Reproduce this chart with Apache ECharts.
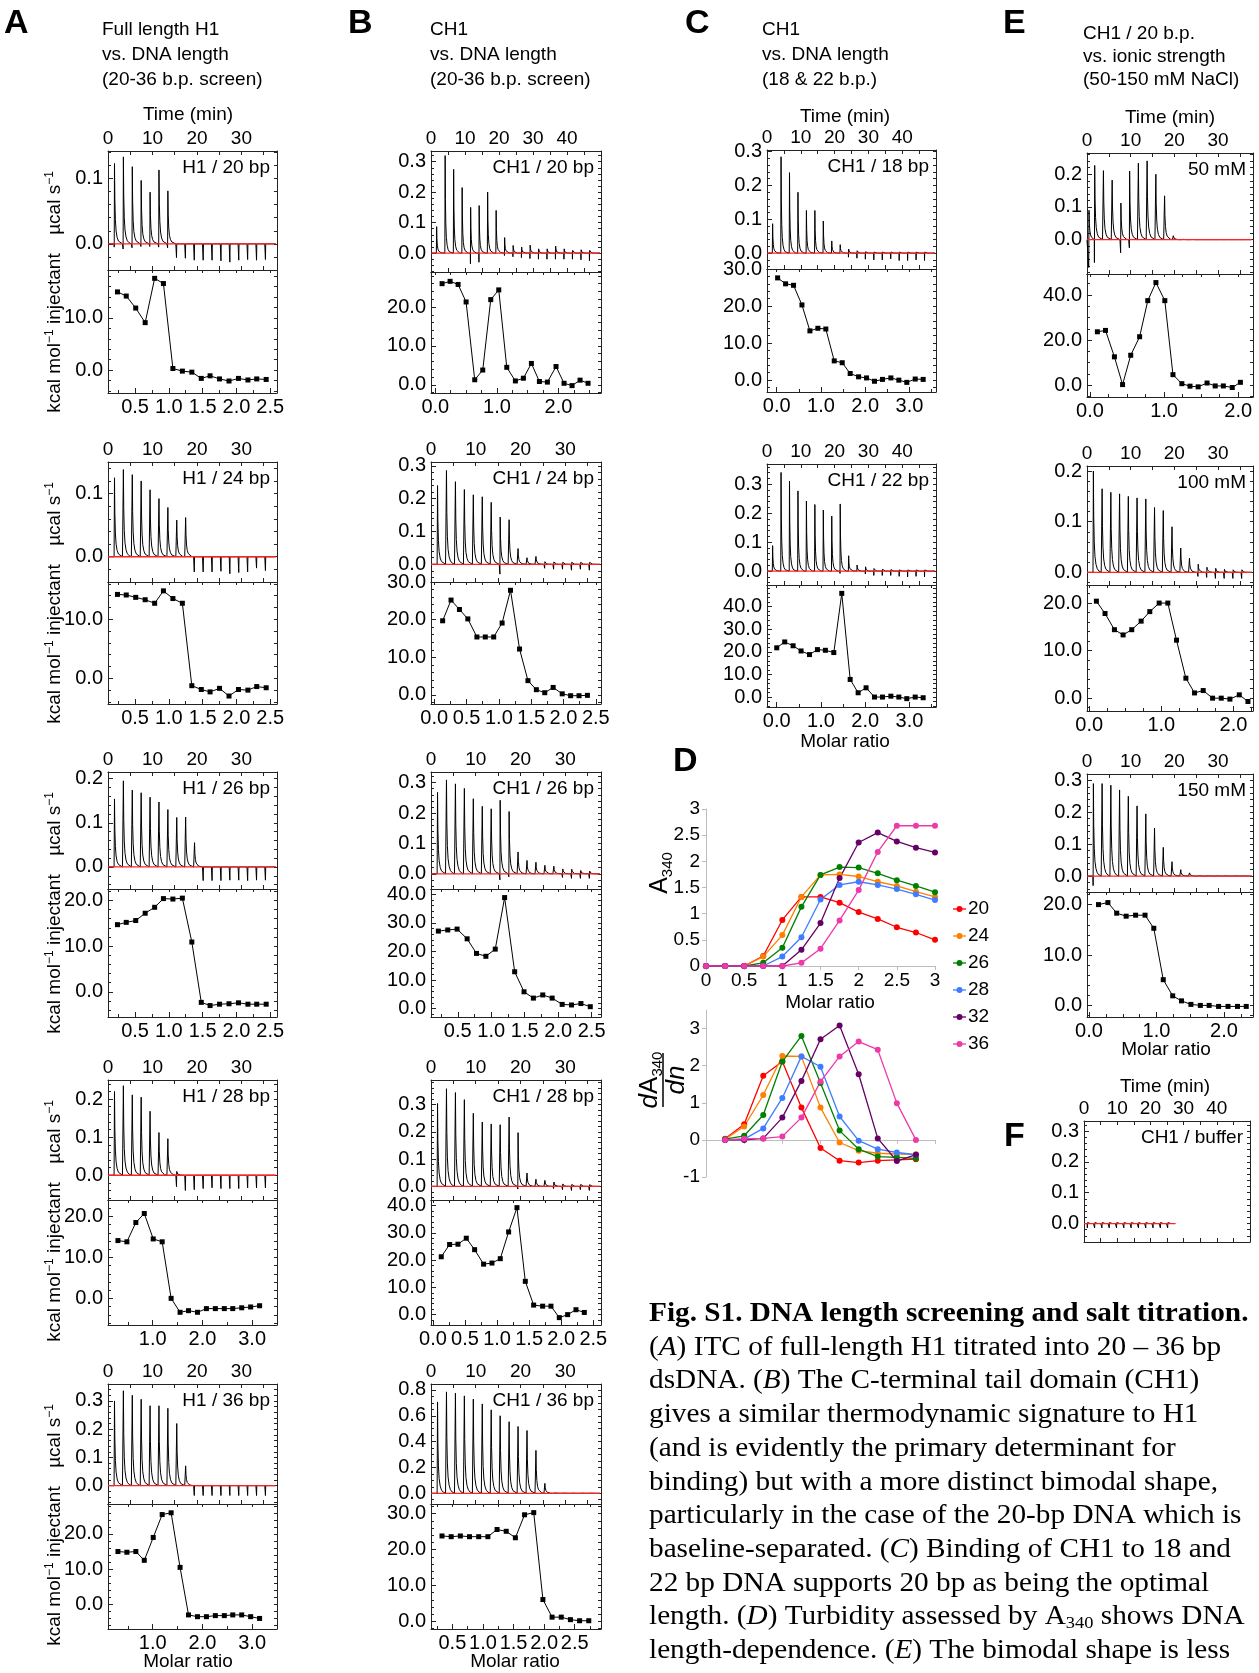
<!DOCTYPE html>
<html><head><meta charset="utf-8">
<script src="https://cdn.jsdelivr.net/npm/echarts@6/dist/echarts.min.js"></script>
<style>html,body{margin:0;padding:0;background:#fff}#c{width:1259px;height:1673px}</style>
</head><body><div id="c"></div><script>
// ---------------- DATA ----------------
// injection times (min)
const injA  = [1.4,3.4,5.4,7.4,9.4,11.4,13.4,15.4,17.4,19.4,21.4,23.4,25.4,27.4,29.4,31.4,33.4,35.4];
const inj50 = [1.6,4.1,6.6,9.1,11.6,14.1,16.6,19.1,21.6,24.1,26.6,29.1,31.6,34.1,36.6,39.1,41.6,44.1,46.6];
const injE1 = [0.4,1.7,3.7,5.7,7.7,9.7,11.7,13.7,15.7,17.7,19.7,21.7,23.7,25.7,27.7,29.7,31.7,33.7,35.7];
const injF  = [1.0,3.2,5.4,7.6,9.8,12.0,14.2,16.4,18.6,20.8,23.0,25.2];

// thermogram peak heights (ucal/s) and injection dips
const a1Up = [0.123,0.133,0.118,0.097,0.079,0.113,0.081,0,0,0,0,0,0,0,0,0,0,0];
const a1Dn = [-0.005,-0.008,-0.006,-0.004,-0.004,-0.005,-0.006,-0.021,-0.022,-0.025,-0.025,-0.025,-0.026,-0.028,-0.025,-0.024,-0.025,-0.024];
const a2Up = [0.125,0.138,0.13,0.12,0.106,0.092,0.078,0.058,0.062,0,0,0,0,0,0,0,0,0];
const a2Dn = [0,0,0,0,0,0,0,0,0,-0.024,-0.024,-0.024,-0.023,-0.027,-0.025,-0.024,-0.018,-0.022];
const a3Up = [0.154,0.195,0.174,0.168,0.158,0.147,0.13,0.112,0.113,0.055,0,0,0,0,0,0,0,0];
const a3Dn = [0,0,0,0,0,0,0,0,0,0,-0.031,-0.031,-0.031,-0.03,-0.03,-0.031,-0.03,-0.03];
const a4Up = [0.22,0.235,0.211,0.205,0.168,0.112,0.096,0.01,0,0,0,0,0,0,0,0,0,0];
const a4Dn = [0,0,0,0,0,0,0,-0.03,-0.04,-0.038,-0.035,-0.033,-0.035,-0.035,-0.035,-0.033,-0.033,-0.033];
const a5Up = [0.30,0.336,0.32,0.306,0.283,0.283,0.274,0.22,0.07,0,0,0,0,0,0,0,0,0];
const a5Dn = [0,0,0,0,0,0,0,0,0,-0.035,-0.035,-0.035,-0.035,-0.035,-0.035,-0.035,-0.035,-0.035];
const b1Up = [0.087,0.32,0.275,0.215,0.15,0.156,0.2,0.14,0.051,0.025,0.02,0.026,0.014,0.014,0.023,0.014,0.009,0.011,0.009];
const b1Dn = [0,0,0,0,-0.035,-0.03,0,0,-0.008,-0.012,-0.015,-0.018,-0.02,-0.02,-0.02,-0.02,-0.02,-0.022,-0.025];
const b2Up = [0.24,0.286,0.252,0.228,0.212,0.206,0.189,0.144,0.136,0.048,0.02,0.024,0.008,0.007,0.006,0.006,0.006,0.006];
const b2Dn = [0,0,0,0,0,0,0,-0.03,0,0,0,0,-0.012,-0.015,-0.015,-0.018,-0.015,-0.018];
const b3Up = [0.268,0.309,0.296,0.281,0.247,0.222,0.214,0.242,0.205,0.072,0.044,0.038,0.028,0.025,0.016,0.015,0.011,0.009];
const b3Dn = [0,0,0,0,0,0,0,-0.02,-0.01,0,0,0,0,0,-0.012,-0.015,-0.015,-0.015];
const b4Up = [0.304,0.358,0.344,0.318,0.268,0.236,0.229,0.226,0.254,0.197,0.049,0.026,0.022,0.016,0.009,0.007,0.007,0.006];
const b4Dn = [0,0,0,0,0,0,0,0,0,-0.01,0,0,0,-0.008,-0.012,-0.015,-0.012,-0.015];
const b5Up = [0.707,0.785,0.775,0.754,0.729,0.692,0.646,0.6,0.554,0.517,0.486,0.332,0.077,0.015,0.01,0.008,0.008,0.008];
const c1Up = [0.087,0.285,0.238,0.18,0.126,0.126,0.095,0.036,0.025,0.012,0.007,0.004,0.003,0.003,0.003,0.003,0.003,0.003,0.003];
const c1Dn = [0,0,0,0,0,0,0,0,0,-0.012,-0.015,-0.018,-0.02,-0.02,-0.017,-0.022,-0.022,-0.02,-0.022];
const c2Up = [0.088,0.341,0.311,0.277,0.242,0.23,0.211,0.19,0.232,0.053,0.021,0.015,0.009,0.006,0.005,0.004,0.004,0.004,0.004];
const c2Dn = [0,0,0,0,0,0,0,0,-0.008,0,0,-0.01,-0.015,-0.015,-0.015,-0.018,-0.02,-0.018,-0.02];
const e1Up = [0.09,0.227,0.211,0.182,0.112,0.21,0.234,0.241,0.2,0.134,0.012,0.005,0.003,0.002,0.002,0.002,0.002,0.002,0.002];
const e1Dn = [-0.085,-0.07,0,0,-0.04,-0.025,-0.005,0,0,0,0,0,0,0,0,0,0,0,0];
const e2Up = [0.20,0.165,0.158,0.155,0.15,0.147,0.145,0.128,0.122,0.09,0.048,0.028,0.016,0.01,0.008,0.006,0.005,0.005];
const e2Dn = [0,0,0,0,0,0,0,0,0,0,0,0,-0.008,-0.01,-0.012,-0.012,-0.012,-0.012];
const e3Up = [0.29,0.29,0.285,0.27,0.25,0.22,0.195,0.15,0.09,0.045,0.02,0.01,0.006,0.005,0.004,0.004,0.004,0.004];
const e3Dn = [-0.03,0,0,0,0,0,0,0,0,0,0,0,0,0,0,0,0,0];
const fUp  = [0.003,0.003,0.003,0.003,0.003,0.003,0.003,0.003,0.003,0.003,0.003,0.003];
const fDn  = [-0.014,-0.014,-0.014,-0.014,-0.014,-0.014,-0.014,-0.014,-0.014,-0.014,-0.014,-0.014];

// binding isotherms: molar ratio and kcal/mol injectant
const isoXa   = [0.24,0.37,0.51,0.65,0.79,0.92,1.06,1.20,1.34,1.48,1.61,1.75,1.89,2.03,2.17,2.30,2.44];
const isoXa45 = [0.30,0.48,0.66,0.83,1.01,1.19,1.37,1.55,1.72,1.90,2.08,2.26,2.44,2.61,2.79,2.97,3.15];
const a1IsoY = [15.0,14.2,11.9,9.1,17.6,16.6,0.3,-0.2,-0.4,-1.6,-1.1,-1.7,-2.1,-1.6,-1.9,-1.7,-1.8];
const a2IsoY = [14.2,14.1,13.7,13.3,12.7,14.8,13.5,12.7,-1.25,-1.9,-2.3,-1.7,-3.0,-1.9,-2.0,-1.4,-1.6];
const a3IsoY = [14.7,15.2,15.6,17.2,18.5,20.4,20.3,20.5,10.9,-2.3,-3.0,-2.7,-2.6,-2.4,-2.7,-2.7,-2.7];
const a4IsoY = [14.1,13.8,18.5,20.7,14.5,13.8,0.0,-3.4,-3.0,-3.4,-2.5,-2.5,-2.5,-2.5,-2.3,-2.1,-1.8];
const a5IsoY = [15.0,14.8,15.0,12.5,19.0,25.5,26.0,10.5,-3.0,-3.5,-3.5,-3.2,-3.2,-3.0,-3.0,-3.5,-4.0];
const b1IsoX = [0.11,0.24,0.37,0.50,0.64,0.77,0.90,1.03,1.16,1.30,1.43,1.56,1.69,1.82,1.96,2.09,2.22,2.35,2.48];
const b1IsoY = [26.0,26.6,25.8,21.3,1.3,3.8,21.9,24.4,4.5,1.0,1.7,5.5,0.85,0.7,4.7,0.4,-0.2,1.2,0.4];
const b2IsoX = [0.13,0.26,0.39,0.52,0.66,0.79,0.92,1.05,1.18,1.32,1.45,1.58,1.71,1.84,1.98,2.11,2.24,2.37];
const b2IsoY = [19.7,25.2,22.7,20.2,15.4,15.4,15.4,19.1,27.8,12.2,3.8,1.4,0.6,2.0,0.3,-0.2,-0.2,-0.1];
const b3IsoX = [0.21,0.35,0.49,0.64,0.78,0.92,1.06,1.20,1.35,1.49,1.63,1.77,1.91,2.06,2.20,2.34,2.48];
const b3IsoY = [27.1,27.5,27.8,24.4,19.3,18.3,20.8,38.8,12.9,5.9,3.7,4.8,3.7,1.5,1.3,1.8,0.7];
const b4IsoX = [0.13,0.26,0.39,0.52,0.65,0.79,0.92,1.05,1.18,1.31,1.44,1.57,1.71,1.84,1.97,2.10,2.23,2.36];
const b4IsoY = [21.2,25.7,25.8,28.0,23.8,18.5,18.9,20.5,30.3,39.2,12.2,3.5,3.1,3.1,-1.1,0.0,1.8,0.8];
const b5IsoX = [0.33,0.48,0.63,0.78,0.93,1.08,1.23,1.38,1.53,1.68,1.83,1.98,2.13,2.28,2.43,2.58,2.73];
const b5IsoY = [23.8,23.6,23.8,23.6,23.6,23.6,25.6,25.1,23.3,29.7,30.3,6.1,1.2,1.2,0.5,0.2,0.2];
const c1IsoX = [0.02,0.20,0.38,0.57,0.75,0.93,1.11,1.30,1.48,1.66,1.85,2.03,2.21,2.39,2.58,2.76,2.94,3.13,3.31];
const c1IsoY = [27.6,26.0,25.6,20.3,13.3,14.0,13.8,5.2,4.7,1.8,0.9,0.6,-0.3,0.2,0.6,0.0,-0.6,0.3,0.2];
const c2IsoX = [0.00,0.18,0.37,0.55,0.74,0.92,1.10,1.29,1.47,1.66,1.84,2.02,2.21,2.39,2.58,2.76,2.94,3.13,3.31];
const c2IsoY = [21.8,24.4,22.7,20.4,18.8,21.0,20.7,19.7,45.9,7.8,1.9,4.1,0.0,0.0,0.4,0.0,-0.7,0.0,-0.3];
const e1IsoX = [0.10,0.21,0.33,0.44,0.55,0.67,0.78,0.89,1.01,1.12,1.24,1.35,1.46,1.58,1.69,1.80,1.92,2.03];
const e1IsoY = [23.7,24.3,12.6,0.3,13.3,21.5,37.5,45.5,37.5,4.7,0.7,-0.4,-0.7,1.0,-0.3,-0.3,-1.0,1.3];
const e2IsoX = [0.10,0.22,0.35,0.47,0.59,0.72,0.84,0.97,1.09,1.21,1.34,1.46,1.58,1.71,1.83,1.95,2.08,2.20];
const e2IsoY = [20.4,17.8,14.4,13.3,14.4,16.2,18.2,20.0,20.0,12.2,4.2,1.1,1.6,0.0,0.0,-0.2,0.7,-0.7];
const e3IsoX = [0.14,0.28,0.41,0.55,0.69,0.83,0.96,1.10,1.24,1.37,1.51,1.65,1.78,1.92,2.06,2.20,2.33];
const e3IsoY = [20.0,20.4,18.3,17.7,17.9,17.9,15.3,5.1,1.9,0.9,0.2,0.0,0.0,-0.2,-0.2,-0.2,-0.2];

// tick labels
const time38Labels = [0,10,20,30];
const time50Labels = [0,10,20,30,40];

// panel D: turbidity
const dLengths = ['20','24','26','28','32','36'];
const dX  = [0,0.25,0.5,0.75,1,1.25,1.5,1.75,2,2.25,2.5,2.75,3];
const dA20 = [0,0,0,0.19,0.88,1.32,1.32,1.21,1.03,0.9,0.74,0.64,0.5];
const dA24 = [0,0,0,0.18,0.59,1.32,1.74,1.75,1.71,1.61,1.53,1.42,1.32];
const dA26 = [0,0,0,0.06,0.35,1.13,1.74,1.89,1.88,1.77,1.64,1.53,1.41];
const dA28 = [0,0,0,0,0.18,0.55,1.27,1.55,1.61,1.55,1.47,1.37,1.26];
const dA32 = [0,0,0,0,0,0.31,0.82,1.68,2.36,2.55,2.38,2.26,2.17];
const dA36 = [0,0,0,0,0,0.06,0.33,0.87,1.45,2.18,2.68,2.68,2.68];
const dXd  = [0.25,0.5,0.75,1,1.25,1.5,1.75,2,2.25,2.5,2.75];
const dD20 = [0.03,0.42,1.73,2.11,0.87,-0.22,-0.56,-0.61,-0.56,-0.54,-0.52];
const dD24 = [0.02,0.36,1.21,2.26,2.25,0.87,-0.07,-0.29,-0.36,-0.38,-0.39];
const dD26 = [0.02,0.11,0.67,2.11,2.8,1.53,0.25,-0.25,-0.45,-0.47,-0.5];
const dD28 = [0,0.02,0.31,1.13,2.25,1.97,0.63,-0.02,-0.25,-0.34,-0.4];
const dD32 = [0,0,0.04,0.6,1.59,2.71,3.08,1.77,0.04,-0.57,-0.4];
const dD36 = [0,0.03,0.04,0.09,0.6,1.57,2.25,2.65,2.43,0.99,0.0];

// ---------------- BUILD ----------------
const FONT = '"Liberation Sans", Arial, Helvetica, sans-serif';
const SERIF = '"Liberation Serif", "Times New Roman", serif';
const FRAME = '#222';
const grids=[], xAxes=[], yAxes=[], series=[], graphics=[];

function fmt1(v){ return (Math.abs(v)<1e-9?0:v).toFixed(1); }
function steps(a,b,s){ const o=[]; for(let v=Math.ceil((a-1e-9)/s)*s; v<=b+1e-9; v+=s) o.push(+v.toFixed(6)); return o; }
function addGrid(left,top,width,height){ grids.push({left,top,width,height,containLabel:false,outerBoundsMode:'none'}); return grids.length-1; }
function axis(list, gi, pos, min, max, o){
  list.push({
    gridIndex:gi, type:'value', position:pos, min, max,
    axisLine:{show:o.line!==false, onZero:false, lineStyle:{color:FRAME,width:1}},
    axisTick:{show:!!o.ticks, inside:true, length:o.len||4, customValues:o.ticks||[], lineStyle:{color:FRAME,width:1}},
    axisLabel:o.labels?{show:true, customValues:o.labels, formatter:o.fmt, fontSize:o.size||20, fontFamily:FONT, color:'#000', margin:o.margin||5, hideOverlap:false}:{show:false},
    splitLine:{show:false}
  });
  return list.length-1;
}
function T(x,y,text,size,opt){
  opt=opt||{};
  const st=Object.assign({text, fontSize:size, fontFamily:opt.family||FONT, fill:'#000',
    align:opt.align||'left', textAlign:opt.align||'left', verticalAlign:'middle', textVerticalAlign:'middle'}, opt.style||{});
  const el={type:'text', x, y, silent:true, style:st};
  if(opt.rot!=null) el.rotation=opt.rot;
  if(opt.sx!=null) el.scaleX=opt.sx;
  return el;
}
const DEC=[[0.06,1],[0.14,0.55],[0.26,0.3],[0.42,0.16],[0.65,0.08],[0.95,0.035],[1.35,0.012],[1.85,0]];
function trace(inj,up,dn,tEnd){
  const pts=[[0,0]];
  inj.forEach((t,i)=>{
    const next=i+1<inj.length?inj[i+1]:tEnd;
    const u=up[i]||0, d=dn?(dn[i]||0):0;
    pts.push([t-0.03,0]);
    if(d) pts.push([t,d]);
    for(const [dt,f] of DEC){ if(t+dt<next-0.04) pts.push([+(t+dt).toFixed(3), u*f]); }
  });
  pts.push([tEnd,0]);
  return pts;
}
function thermo(o){
  const g=addGrid(o.left,o.top,o.width,o.sep-o.top);
  const tt=steps(0,o.tMax,5);
  const xi=axis(xAxes,g,'top',0,o.tMax,{ticks:tt,len:4,labels:o.tLabels,fmt:v=>String(Math.round(v)),size:19,margin:3});
  axis(xAxes,g,'bottom',0,o.tMax,{ticks:tt,len:4});
  const mn=steps(o.y[0],o.y[1],o.yMinor);
  const yi=axis(yAxes,g,'left',o.y[0],o.y[1],{ticks:o.yLabels,len:5,labels:o.yLabels,fmt:fmt1});
  axis(yAxes,g,'left',o.y[0],o.y[1],{line:false,ticks:mn,len:3});
  axis(yAxes,g,'right',o.y[0],o.y[1],{ticks:mn,len:3});
  series.push({type:'line',xAxisIndex:xi,yAxisIndex:yi,data:trace(o.inj,o.up,o.dn,o.tEnd),symbol:'none',lineStyle:{color:'#000',width:1},z:2,silent:true});
  series.push({type:'line',xAxisIndex:xi,yAxisIndex:yi,data:[[0,0],[o.tEnd,0]],symbol:'none',lineStyle:{color:'#f22',width:1.3},z:3,silent:true});
  graphics.push(T(o.left+o.width-7,o.top+17,o.tag,19,{align:'right'}));
}
function iso(o){
  const g=addGrid(o.left,o.sep,o.width,o.bottom-o.sep);
  const xm=steps(o.xr[0],o.xr[1],o.xMinor);
  const xi=axis(xAxes,g,'bottom',o.xr[0],o.xr[1],{ticks:o.xLabels,len:5,labels:o.xLabels,fmt:fmt1,margin:4});
  axis(xAxes,g,'bottom',o.xr[0],o.xr[1],{line:false,ticks:xm,len:3});
  axis(xAxes,g,'top',o.xr[0],o.xr[1],{ticks:xm,len:3});
  const ym=steps(o.yr[0],o.yr[1],o.yMinor);
  const yi=axis(yAxes,g,'left',o.yr[0],o.yr[1],{ticks:o.yLabels,len:5,labels:o.yLabels,fmt:fmt1});
  axis(yAxes,g,'left',o.yr[0],o.yr[1],{line:false,ticks:ym,len:3});
  axis(yAxes,g,'right',o.yr[0],o.yr[1],{ticks:ym,len:3});
  series.push({type:'line',xAxisIndex:xi,yAxisIndex:yi,data:o.x.map((v,i)=>[v,o.y[i]]),symbol:'rect',symbolSize:5,
    itemStyle:{color:'#000'},lineStyle:{color:'#000',width:1},z:3,silent:true});
}
function panel(p){
  thermo({left:p.left,width:p.width,top:p.rows[0],sep:p.rows[1],tMax:p.tMax,tLabels:p.tLabels,tEnd:p.tEnd||p.tMax-0.3,
    inj:p.inj,up:p.up,dn:p.dn,y:p.y,yLabels:p.yLabels,yMinor:p.yMinor||0.02,tag:p.tag});
  if(p.isoY) iso({left:p.left,width:p.width,sep:p.rows[1],bottom:p.rows[2],x:p.isoX,y:p.isoY,xr:p.xr,xLabels:p.xLabels,
    xMinor:p.xMinor||0.25,yr:p.yr,yLabels:p.isoYLabels,yMinor:p.isoYMinor||2});
}

const ROWS=[[151,270,393],[462,582,704],[772,889,1017],[1080,1200,1325],[1384,1504,1629]];
const A={left:108,width:169}, B={left:431,width:170}, C={left:767,width:169}, E={left:1087,width:166};
const xA=[0.5,1,1.5,2,2.5], xB=[0,0.5,1,1.5,2,2.5];

// Column A
panel(Object.assign({},A,{rows:ROWS[0],tMax:38,tLabels:time38Labels,inj:injA,up:a1Up,dn:a1Dn,y:[-0.04,0.142],yLabels:[0,0.1],tag:'H1 / 20 bp',
  isoX:isoXa,isoY:a1IsoY,xr:[0.1,2.6],xLabels:xA,yr:[-4.4,19.2],isoYLabels:[0,10]}));
panel(Object.assign({},A,{rows:ROWS[1],tMax:38,tLabels:time38Labels,inj:injA,up:a2Up,dn:a2Dn,y:[-0.04,0.15],yLabels:[0,0.1],tag:'H1 / 24 bp',
  isoX:isoXa,isoY:a2IsoY,xr:[0.1,2.6],xLabels:xA,yr:[-4.35,16.3],isoYLabels:[0,10]}));
panel(Object.assign({},A,{rows:ROWS[2],tMax:38,tLabels:time38Labels,inj:injA,up:a3Up,dn:a3Dn,y:[-0.05,0.215],yLabels:[0,0.1,0.2],tag:'H1 / 26 bp',
  isoX:isoXa,isoY:a3IsoY,xr:[0.1,2.6],xLabels:xA,yr:[-5.5,22.5],isoYLabels:[0,10,20]}));
panel(Object.assign({},A,{rows:ROWS[3],tMax:38,tLabels:time38Labels,inj:injA,up:a4Up,dn:a4Dn,y:[-0.065,0.25],yLabels:[0,0.1,0.2],tag:'H1 / 28 bp',
  isoX:isoXa45,isoY:a4IsoY,xr:[0.1,3.5],xLabels:[1,2,3],xMinor:0.5,yr:[-6.5,24],isoYLabels:[0,10,20]}));
panel(Object.assign({},A,{rows:ROWS[4],tMax:38,tLabels:time38Labels,inj:injA,up:a5Up,dn:a5Dn,y:[-0.065,0.36],yLabels:[0,0.1,0.2,0.3],tag:'H1 / 36 bp',
  isoX:isoXa45,isoY:a5IsoY,xr:[0.1,3.5],xLabels:[1,2,3],xMinor:0.5,yr:[-7,28.5],isoYLabels:[0,10,20]}));
// Column B
panel(Object.assign({},B,{rows:[151,272,393],tMax:50,tLabels:time50Labels,inj:inj50,up:b1Up,dn:b1Dn,y:[-0.062,0.335],yLabels:[0,0.1,0.2,0.3],tag:'CH1 / 20 bp',
  isoX:b1IsoX,isoY:b1IsoY,xr:[-0.07,2.69],xLabels:[0,1,2],yr:[-2.1,29],isoYLabels:[0,10,20]}));
panel(Object.assign({},B,{rows:ROWS[1],tMax:38,tLabels:time38Labels,inj:injA,up:b2Up,dn:b2Dn,y:[-0.054,0.312],yLabels:[0,0.1,0.2,0.3],tag:'CH1 / 24 bp',
  isoX:b2IsoX,isoY:b2IsoY,xr:[-0.05,2.58],xLabels:xB,yr:[-2.4,30],isoYLabels:[0,10,20,30]}));
panel(Object.assign({},B,{rows:ROWS[2],tMax:38,tLabels:time38Labels,inj:injA,up:b3Up,dn:b3Dn,y:[-0.05,0.335],yLabels:[0,0.1,0.2,0.3],tag:'CH1 / 26 bp',
  isoX:b3IsoX,isoY:b3IsoY,xr:[0.1,2.64],xLabels:xA,yr:[-2.9,41.8],isoYLabels:[0,10,20,30,40]}));
panel(Object.assign({},B,{rows:ROWS[3],tMax:38,tLabels:time38Labels,inj:injA,up:b4Up,dn:b4Dn,y:[-0.05,0.39],yLabels:[0,0.1,0.2,0.3],tag:'CH1 / 28 bp',
  isoX:b4IsoX,isoY:b4IsoY,xr:[-0.03,2.62],xLabels:xB,yr:[-3.8,42],isoYLabels:[0,10,20,30,40]}));
panel(Object.assign({},B,{rows:ROWS[4],tMax:38,tLabels:time38Labels,inj:injA,up:b5Up,dn:null,y:[-0.083,0.846],yLabels:[0,0.2,0.4,0.6,0.8],yMinor:0.05,tag:'CH1 / 36 bp',
  isoX:b5IsoX,isoY:b5IsoY,xr:[0.15,2.93],xLabels:xA,yr:[-2.1,32.7],isoYLabels:[0,10,20,30]}));
// Column C
panel(Object.assign({},C,{rows:[150,269,392],tMax:50,tLabels:time50Labels,inj:inj50,up:c1Up,dn:c1Dn,y:[-0.047,0.305],yLabels:[0,0.1,0.2,0.3],tag:'CH1 / 18 bp',
  isoX:c1IsoX,isoY:c1IsoY,xr:[-0.22,3.6],xLabels:[0,1,2,3],xMinor:0.5,yr:[-3.2,30],isoYLabels:[0,10,20,30]}));
panel(Object.assign({},C,{rows:[464,585,707],tMax:50,tLabels:time50Labels,inj:inj50,up:c2Up,dn:c2Dn,y:[-0.048,0.37],yLabels:[0,0.1,0.2,0.3],tag:'CH1 / 22 bp',
  isoX:c2IsoX,isoY:c2IsoY,xr:[-0.22,3.6],xLabels:[0,1,2,3],xMinor:0.5,yr:[-4.4,49.6],isoYLabels:[0,10,20,30,40]}));
// Column E
panel(Object.assign({},E,{rows:[153,274,397],tMax:38,tLabels:time38Labels,inj:injE1,up:e1Up,dn:e1Dn,y:[-0.105,0.265],yLabels:[0,0.1,0.2],tag:'50 mM',
  isoX:e1IsoX,isoY:e1IsoY,xr:[-0.04,2.2],xLabels:[0,1,2],yr:[-5.2,49.3],isoYLabels:[0,20,40],isoYMinor:5}));
panel(Object.assign({},E,{rows:[466,585,711],tMax:38,tLabels:time38Labels,inj:injA,up:e2Up,dn:e2Dn,y:[-0.025,0.21],yLabels:[0,0.1,0.2],tag:'100 mM',
  isoX:e2IsoX,isoY:e2IsoY,xr:[-0.03,2.27],xLabels:[0,1,2],yr:[-2.7,23.8],isoYLabels:[0,10,20]}));
panel(Object.assign({},E,{rows:[774,892,1017],tMax:38,tLabels:time38Labels,inj:injA,up:e3Up,dn:e3Dn,y:[-0.05,0.32],yLabels:[0,0.1,0.2,0.3],tag:'150 mM',
  isoX:e3IsoX,isoY:e3IsoY,xr:[-0.03,2.43],xLabels:[0,1,2],yr:[-2.3,22.5],isoYLabels:[0,10,20]}));
// F
panel({left:1084,width:166,rows:[1121,1242],tMax:50,tLabels:time50Labels,tEnd:27.5,inj:injF,up:fUp,dn:fDn,y:[-0.06,0.333],yLabels:[0,0.1,0.2,0.3],tag:'CH1 / buffer'});

// Panel D
const dColors=['#ff0000','#ff8000','#008000','#3d7dff','#660066','#ee3aa8'];
const dA=[dA20,dA24,dA26,dA28,dA32,dA36], dD=[dD20,dD24,dD26,dD28,dD32,dD36];
const GR='#bdbdbd';
const gD1=addGrid(706,809,229,157), gD2=addGrid(706,1010,229,167);
const dx1=xAxes.push({gridIndex:gD1,type:'value',min:0,max:3,interval:0.5,axisLine:{onZero:false,lineStyle:{color:GR}},axisTick:{show:true,length:4,lineStyle:{color:GR}},
  axisLabel:{fontSize:19,color:'#000',fontFamily:FONT,margin:5},splitLine:{show:false}})-1;
const dy1=yAxes.push({gridIndex:gD1,type:'value',min:0,max:3,interval:0.5,axisLine:{show:true,onZero:false,lineStyle:{color:GR}},axisTick:{show:true,length:4,lineStyle:{color:GR}},
  axisLabel:{fontSize:19,color:'#000',fontFamily:FONT,margin:6},splitLine:{show:false}})-1;
const dx2=xAxes.push({gridIndex:gD2,type:'value',min:0,max:3,interval:0.5,axisLine:{onZero:true,lineStyle:{color:GR}},axisTick:{show:true,length:4,lineStyle:{color:GR}},
  axisLabel:{show:false},splitLine:{show:false}})-1;
const dy2=yAxes.push({gridIndex:gD2,type:'value',min:-1,max:3.5,axisLine:{show:true,onZero:false,lineStyle:{color:GR}},axisTick:{show:true,length:4,customValues:[-1,0,1,2,3],lineStyle:{color:GR}},
  axisLabel:{fontSize:19,color:'#000',fontFamily:FONT,margin:6,customValues:[-1,0,1,2,3]},splitLine:{show:false}})-1;
dLengths.forEach((n,i)=>{
  series.push({type:'line',name:n,xAxisIndex:dx1,yAxisIndex:dy1,data:dX.map((x,j)=>[x,dA[i][j]]),symbol:'circle',symbolSize:6,
    lineStyle:{color:dColors[i],width:1.3},itemStyle:{color:dColors[i]},z:3,silent:true});
  series.push({type:'line',name:n,xAxisIndex:dx2,yAxisIndex:dy2,data:dXd.map((x,j)=>[x,dD[i][j]]),symbol:'circle',symbolSize:6,
    lineStyle:{color:dColors[i],width:1.3},itemStyle:{color:dColors[i]},z:3,silent:true});
  const ly=909+i*27;
  graphics.push({type:'line',silent:true,shape:{x1:953,y1:ly,x2:966,y2:ly},style:{stroke:dColors[i],lineWidth:1.3}});
  graphics.push({type:'circle',silent:true,shape:{cx:959.5,cy:ly,r:3},style:{fill:dColors[i]}});
  graphics.push(T(968,ly,n,19));
});
graphics.push(T(830,1003,'Molar ratio',19,{align:'center'}));
graphics.push(T(660,873,'A{s|340}',25,{align:'center',rot:Math.PI/2,style:{lineHeight:30,rich:{s:{fontSize:15,lineHeight:15,verticalAlign:'bottom',fontFamily:FONT}}}}));
graphics.push({type:'group',x:663,y:1080,rotation:Math.PI/2,silent:true,children:[
  T(0,-13,'{i|d}A{s|340}',26,{align:'center',style:{lineHeight:30,rich:{i:{fontStyle:'italic',fontSize:26,fontFamily:FONT},s:{fontSize:15,lineHeight:15,verticalAlign:'bottom',fontFamily:FONT}}}}),
  {type:'line',shape:{x1:-27,y1:0,x2:27,y2:0},style:{stroke:'#000',lineWidth:1.5}},
  T(0,14,'{i|dn}',26,{align:'center',style:{rich:{i:{fontStyle:'italic',fontSize:26,fontFamily:FONT}}}})
]});

// Letters
[['A',4,24],['B',348,24],['C',685,24],['E',1003,24],['D',673,762],['F',1004,1137]].forEach(([t,x,y])=>
  graphics.push(T(x,y,t,34,{style:{fontWeight:'bold'}})));
// Titles
[[102,['Full length H1','vs. DNA length','(20-36 b.p. screen)'],[30,55,80]],
 [430,['CH1','vs. DNA length','(20-36 b.p. screen)'],[30,55,80]],
 [762,['CH1','vs. DNA length','(18 & 22 b.p.)'],[30,55,80]],
 [1083,['CH1 / 20 b.p.','vs. ionic strength','(50-150 mM NaCl)'],[34,57,80]]].forEach(([x,lines,ys])=>
  lines.forEach((s,i)=>graphics.push(T(x,ys[i],s,19))));
// axis titles
[[188,115],[845,117],[1170,118],[1165,1087]].forEach(([x,y])=>graphics.push(T(x,y,'Time (min)',19,{align:'center'})));
[[188,1662],[515,1662],[845,742],[1166,1050]].forEach(([x,y])=>graphics.push(T(x,y,'Molar ratio',19,{align:'center'})));
const sup={p:{fontSize:12,lineHeight:12,verticalAlign:'top',fontFamily:FONT}};
[151,462,772,1080,1384].forEach(top=>{
  graphics.push(T(55,top+52,'µcal s{p|−1}',19,{align:'center',rot:Math.PI/2,style:{lineHeight:22,rich:sup}}));
  graphics.push(T(55,top+182,'kcal mol{p|−1} injectant',19,{align:'center',rot:Math.PI/2,style:{lineHeight:22,rich:sup}}));
});
// Caption
const captionLines=[
 '{b|Fig. S1. DNA length screening and salt titration.}',
 '({i|A}) ITC of full-length H1 titrated into 20 – 36 bp',
 'dsDNA. ({i|B}) The C-terminal tail domain (CH1)',
 'gives a similar thermodynamic signature to H1',
 '(and is evidently the primary determinant for',
 'binding) but with a more distinct bimodal shape,',
 'particularly in the case of the 20-bp DNA which is',
 'baseline-separated. ({i|C}) Binding of CH1 to 18 and',
 '22 bp DNA supports 20 bp as being the optimal',
 'length. ({i|D}) Turbidity assessed by A{sub|340} shows DNA',
 'length-dependence. ({i|E}) The bimodal shape is less'];
captionLines.forEach((s,i)=>graphics.push(T(649,1314+i*33.7,s,27,{family:SERIF,sx:1.084,style:{lineHeight:30,rich:{
  b:{fontWeight:'bold',fontSize:27,fontFamily:SERIF},
  i:{fontStyle:'italic',fontSize:27,fontFamily:SERIF},
  sub:{fontSize:17,lineHeight:17,verticalAlign:'bottom',fontFamily:SERIF}}}})));

const chart=echarts.init(document.getElementById('c'),null,{renderer:'canvas'});
chart.setOption({animation:false,backgroundColor:'#fff',textStyle:{fontFamily:FONT},
  grid:grids,xAxis:xAxes,yAxis:yAxes,series:series,graphic:{elements:graphics}});
</script></body></html>
